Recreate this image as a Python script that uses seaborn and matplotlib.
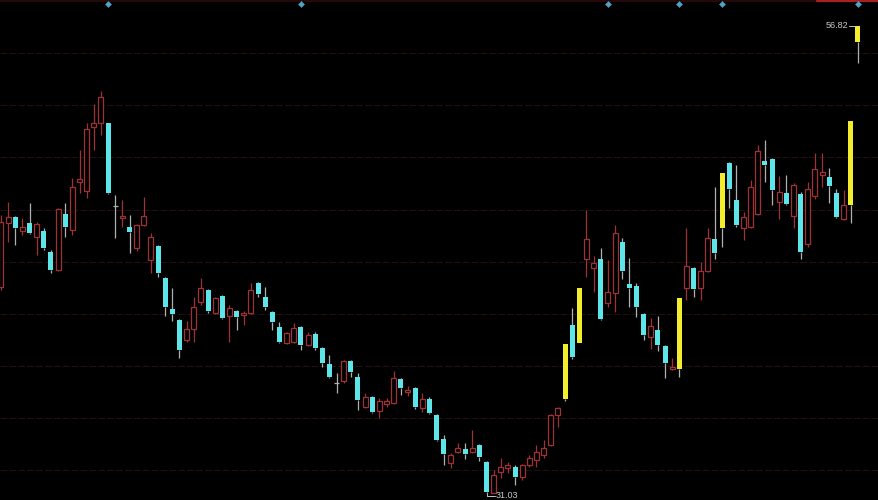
import numpy as np
import pandas as pd
import matplotlib
matplotlib.use("Agg")
import matplotlib.pyplot as plt
import seaborn as sns

# daily candles, oldest first
opens = [42.44, 45.96, 46.29, 45.52, 45.96, 45.19, 45.52, 44.37, 43.37, 46.46,
         45.58, 48.22, 47.73, 51.25, 51.47, 51.47, 46.90, 46.24, 45.74, 44.59,
         45.85, 43.92, 44.70, 42.93, 41.22, 40.62, 39.52, 40.12, 41.61, 42.27,
         41.00, 41.94, 40.84, 41.11, 40.89, 41.00, 42.66, 41.89, 41.06, 40.23,
         39.35, 39.41, 40.23, 39.24, 39.85, 39.08, 38.19, 37.15, 37.26, 38.36,
         37.48, 35.82, 36.37, 35.60, 35.99, 36.04, 37.37, 36.65, 36.87, 35.77,
         36.26, 35.38, 34.06, 32.74, 33.34, 33.51, 33.34, 33.73, 32.79, 31.08,
         32.24, 32.46, 32.52, 31.97, 32.63, 32.90, 33.18, 33.73, 35.38, 36.26,
         40.34, 39.35, 43.98, 43.48, 43.98, 41.56, 42.11, 44.92, 42.60, 42.49,
         40.95, 39.68, 40.07, 39.19, 37.92, 37.92, 42.38, 43.48, 42.38, 43.32,
         45.08, 45.69, 49.27, 47.23, 45.69, 45.74, 46.46, 49.38, 49.49, 47.12,
         47.62, 46.35, 47.56, 44.81, 47.45, 48.61, 48.50, 47.62, 46.18, 46.96,
         55.94]
highs = [46.40, 47.12, 46.35, 46.24, 47.07, 46.02, 45.69, 44.48, 46.79, 47.07,
         48.44, 49.99, 51.47, 52.52, 53.24, 51.47, 47.51, 47.23, 46.40, 45.91,
         47.40, 45.41, 44.75, 42.99, 42.38, 40.67, 40.56, 41.89, 42.93, 42.33,
         41.89, 42.00, 41.44, 41.17, 41.11, 42.66, 42.71, 42.44, 41.11, 40.51,
         39.96, 40.45, 40.29, 39.96, 39.96, 39.13, 38.69, 37.70, 38.41, 38.41,
         37.70, 36.60, 36.43, 36.32, 36.32, 37.81, 37.42, 36.98, 36.93, 36.60,
         36.37, 35.44, 34.28, 33.29, 33.84, 33.84, 34.56, 33.78, 32.85, 32.35,
         33.01, 32.79, 32.63, 32.68, 33.18, 33.73, 34.01, 35.44, 35.82, 39.30,
         41.28, 42.38, 46.68, 44.15, 44.59, 43.92, 45.85, 45.14, 44.03, 42.66,
         41.00, 40.73, 40.84, 39.24, 38.52, 41.83, 45.69, 43.54, 43.81, 45.69,
         47.95, 48.72, 49.33, 49.16, 46.57, 48.33, 50.26, 50.54, 49.55, 48.55,
         48.61, 48.17, 47.67, 48.22, 49.82, 49.82, 49.00, 47.84, 47.78, 51.58,
         56.82]
lows = [42.27, 44.92, 44.75, 45.30, 45.36, 44.20, 44.48, 43.21, 43.32, 45.19,
        45.30, 47.62, 47.34, 49.99, 50.81, 47.56, 45.14, 45.74, 44.31, 44.42,
        45.80, 43.21, 42.99, 40.84, 40.56, 38.52, 39.41, 39.41, 41.44, 41.00,
        40.95, 40.67, 39.41, 40.07, 40.34, 40.95, 41.89, 41.17, 40.07, 39.35,
        39.30, 39.35, 38.96, 39.19, 38.96, 38.03, 37.42, 36.60, 37.15, 37.48,
        35.66, 35.77, 35.49, 35.22, 35.82, 35.99, 36.48, 36.43, 35.71, 35.55,
        35.44, 33.95, 32.63, 32.46, 33.29, 32.96, 33.29, 32.85, 31.03, 31.08,
        31.91, 32.19, 31.53, 31.80, 32.52, 32.52, 33.01, 33.67, 34.72, 36.15,
        38.47, 39.35, 42.99, 42.16, 40.62, 41.33, 41.06, 42.88, 41.33, 40.78,
        39.52, 39.02, 38.91, 37.42, 37.86, 37.48, 41.72, 41.89, 41.72, 43.26,
        43.98, 44.64, 46.79, 45.74, 45.03, 45.69, 46.40, 48.22, 46.96, 46.18,
        46.96, 45.69, 43.98, 44.64, 47.29, 47.95, 47.07, 46.24, 46.13, 45.96,
        54.78]
closes = [46.02, 46.29, 45.69, 45.74, 45.41, 45.91, 44.59, 43.37, 46.74, 45.74,
          47.95, 48.39, 51.14, 51.47, 52.91, 47.62, 46.90, 46.35, 45.47, 45.85,
          46.35, 45.19, 43.21, 41.33, 40.95, 38.96, 40.12, 41.33, 42.38, 41.11,
          41.83, 40.73, 41.28, 40.78, 41.00, 42.27, 42.05, 41.33, 40.51, 39.41,
          39.90, 40.18, 39.24, 39.79, 39.08, 38.25, 37.48, 37.15, 38.36, 37.75,
          36.21, 36.37, 35.55, 36.15, 36.15, 37.42, 36.87, 36.76, 35.82, 36.26,
          35.49, 34.01, 33.23, 33.18, 33.56, 33.23, 33.56, 33.07, 31.14, 32.08,
          32.52, 32.63, 31.97, 32.63, 33.01, 33.34, 33.56, 35.38, 35.77, 39.30,
          38.58, 42.38, 45.08, 43.76, 40.67, 42.16, 45.41, 43.32, 42.38, 41.33,
          39.79, 40.29, 39.24, 38.25, 38.03, 41.83, 43.59, 42.33, 43.32, 45.14,
          44.31, 48.72, 47.84, 45.85, 46.29, 47.95, 49.93, 49.16, 47.78, 47.67,
          47.01, 48.06, 44.37, 47.84, 48.94, 48.77, 48.00, 46.29, 46.96, 51.58,
          56.82]
limit_up = [79, 81, 95, 101, 119, 120]
event_days = [15, 42, 85, 95, 101, 120]
grid_levels = [55.33, 52.47, 49.60, 46.68, 43.81, 40.95, 38.08, 35.22, 32.35]

df = pd.DataFrame({"open": opens, "high": highs, "low": lows, "close": closes})
df["day"] = np.arange(len(df))
df["kind"] = np.where(df.close > df.open, "up", np.where(df.close < df.open, "down", "flat"))
df.loc[df.day.isin(limit_up), "kind"] = "limit"

RED = "#9e3236"
CYAN = "#5de6ea"
YELLOW = "#f2ee2c"
GREY = "#b0b0b0"

sns.set_theme(style="dark", rc={"axes.facecolor": "black", "figure.facecolor": "black"})
plt.rcParams["font.family"] = ["Liberation Sans", "DejaVu Sans"]

fig = plt.figure(figsize=(8.79, 5), dpi=100)
ax = fig.add_axes([0, 0, 1, 1])
ax.set_facecolor("black")
ax.set_xlim(-0.14, 122.97)
ax.set_ylim(30.70, 58.25)

for lvl in grid_levels:
    ax.axhline(lvl, color="#221010", lw=0.8, ls=(0, (6, 2)), zorder=0)

# top border, with the brighter red piece on the right
ax.plot([0, 1], [0.999, 0.999], transform=ax.transAxes, color="#2e0a0a", lw=1.2)
ax.plot([817 / 879, 1], [0.998, 0.998], transform=ax.transAxes, color="#a82020", lw=1.6)

w = 0.7
body_lo = df[["open", "close"]].min(axis=1)
body_hi = df[["open", "close"]].max(axis=1)
wick_col = np.where(df.kind == "up", RED, GREY)
# shadows drawn in two pieces so the hollow bodies stay empty
ax.vlines(df.day, body_hi, df.high, colors=wick_col, lw=0.9, zorder=1)
ax.vlines(df.day, df.low, body_lo, colors=wick_col, lw=0.9, zorder=1)

up = df[df.kind == "up"]
ax.bar(up.day, up.close - up.open, bottom=up.open, width=w,
       facecolor="black", edgecolor=RED, linewidth=0.9, zorder=2)
down = df[df.kind == "down"]
ax.bar(down.day, down.open - down.close, bottom=down.close, width=w,
       color=CYAN, linewidth=0, zorder=2)
lim = df[df.kind == "limit"]
ax.bar(lim.day, lim.close - lim.open, bottom=lim.open, width=w,
       color=YELLOW, linewidth=0, zorder=2)
flat = df[df.kind == "flat"]
ax.hlines(flat.close, flat.day - w / 2, flat.day + w / 2, colors=GREY, lw=0.9, zorder=2)

# event markers along the top edge
sns.scatterplot(x=event_days, y=[58.03] * len(event_days), marker="D", s=10,
                color="#4fa3c7", edgecolor=None, ax=ax, zorder=3, legend=False)

# max / min annotations
hi_day = int(df.high.idxmax())
hi = df.high.max()
ax.plot([hi_day - 1.3, hi_day - 0.35], [hi, hi], color="#c8c8c8", lw=0.7)
ax.text(hi_day - 1.4, hi, f"{hi:.2f}", ha="right", va="center", fontsize=6.5, color="#c8c8c8")

lo_day = int(df.low.idxmin())
lo = df.low.min()
ax.plot([lo_day, lo_day, lo_day + 1.2], [lo, lo - 0.1, lo - 0.1], color="#c8c8c8", lw=0.7)
ax.text(lo_day + 1.3, lo - 0.1, f"{lo:.2f}", ha="left", va="center", fontsize=6.5, color="#c8c8c8")

ax.set_xticks([])
ax.set_yticks([])
ax.grid(False)
for s in ax.spines.values():
    s.set_visible(False)

fig.savefig("out.png", dpi=100, facecolor="black")
